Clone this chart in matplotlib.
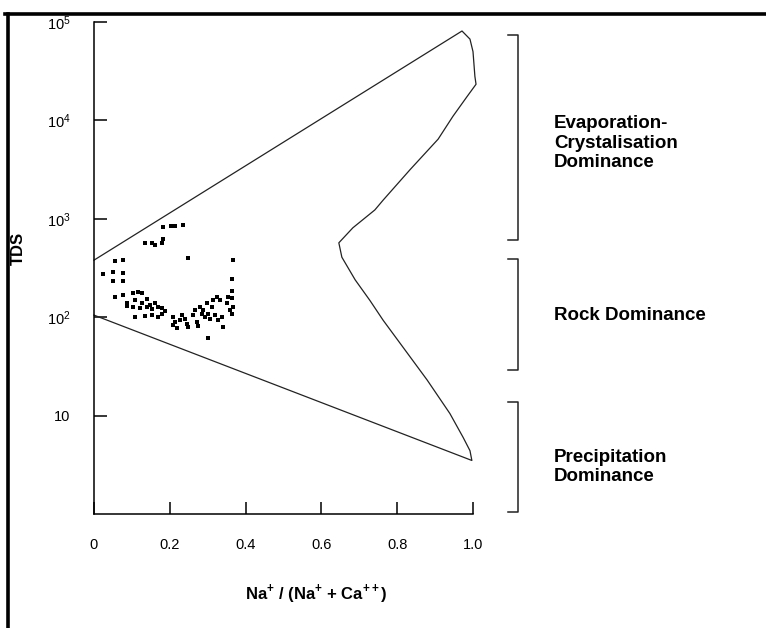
import matplotlib.pyplot as plt
from matplotlib.lines import Line2D

plt.rcParams['font.family'] = ['Liberation Sans', 'DejaVu Sans']
plt.rcParams['mathtext.fontset'] = 'custom'
plt.rcParams['mathtext.rm'] = 'Liberation Sans'
plt.rcParams['mathtext.bf'] = 'Liberation Sans:bold'

# Gibbs envelope, traced round from lower-left to upper-left
env_x = [0.0, 0.997, 0.992, 0.974, 0.939, 0.879, 0.763, 0.728, 0.689, 0.654,
         0.646, 0.683, 0.741, 0.763, 0.834, 0.908, 0.947, 0.984, 1.008, 1.005,
         1.0, 0.992, 0.971, 0.0]
env_tds = [105, 3.5, 4.4, 6.0, 10.5, 23, 93, 148, 240, 407,
           570, 810, 1230, 1550, 3160, 6450, 11000, 17400, 23300, 28000,
           50000, 67000, 81000, 380]

# samples: Na+/(Na+ + Ca++) ratio and TDS (mg/l)
na_ratio = [0.183, 0.202, 0.214, 0.236, 0.135, 0.152, 0.161, 0.183, 0.180, 0.249,
            0.368, 0.055, 0.077, 0.025, 0.051, 0.077, 0.051, 0.077, 0.363, 0.363,
            0.055, 0.077, 0.104, 0.117, 0.126, 0.086, 0.108, 0.126, 0.139, 0.148,
            0.161, 0.170, 0.179, 0.187, 0.086, 0.104, 0.121, 0.139, 0.152, 0.108,
            0.135, 0.152, 0.170, 0.179, 0.209, 0.214, 0.209, 0.218, 0.227, 0.231,
            0.240, 0.245, 0.249, 0.262, 0.266, 0.271, 0.275, 0.280, 0.284, 0.288,
            0.293, 0.297, 0.302, 0.306, 0.311, 0.315, 0.319, 0.324, 0.328, 0.332,
            0.337, 0.341, 0.350, 0.354, 0.359, 0.363, 0.363, 0.368, 0.302]
tds = [822, 849, 850, 868, 573, 565, 543, 621, 565, 397,
       382, 375, 382, 275, 290, 283, 235, 235, 244, 185,
       161, 168, 175, 181, 175, 138, 149, 138, 152, 133,
       140, 127, 123, 116, 130, 126, 123, 127, 120, 101,
       102, 105, 101, 109, 101, 90, 83, 77, 93, 105,
       97, 86, 80, 105, 118, 90, 81, 127, 109, 118,
       101, 138, 109, 97, 127, 149, 105, 161, 93, 149,
       101, 80, 138, 161, 118, 155, 109, 127, 61]

x_ticks = [0, 0.2, 0.4, 0.6, 0.8, 1.0]
x_ticklabels = ['0', '0.2', '0.4', '0.6', '0.8', '1.0']
y_ticks = [10, 100, 1000, 10000, 100000]
y_ticklabels = ['10', r'$\mathregular{10^2}$', r'$\mathregular{10^3}$',
                r'$\mathregular{10^4}$', r'$\mathregular{10^5}$']

# dominance zones: (top, bottom, label, label height)
zone_top = [74000, 390, 13.6]
zone_bottom = [610, 29, 1.05]
zone_label = ['Evaporation-\nCrystalisation\nDominance', 'Rock Dominance',
              'Precipitation\nDominance']
zone_label_y = [5850, 105, 3.0]

fig = plt.figure(figsize=(7.66, 6.28), dpi=100)
ax = fig.add_axes([94 / 766, 1 - 514 / 628, 379 / 766, 492 / 628])

ax.plot(env_x, env_tds, color='#222222', lw=0.9, clip_on=False)
ax.scatter(na_ratio, tds, marker='s', s=10, color='black', linewidths=0)

ax.set_yscale('log')
ax.set_xlim(0, 1.0)
ax.set_ylim(1, 100000)
ax.set_xticks(x_ticks)
ax.set_xticklabels(x_ticklabels)
ax.set_yticks(y_ticks)
ax.set_yticklabels(y_ticklabels)
ax.minorticks_off()
ax.tick_params(direction='in', length=9, width=1.1, labelsize=10.5, pad=17)

for side in ['top', 'right']:
    ax.spines[side].set_visible(False)
for side in ['left', 'bottom']:
    ax.spines[side].set_linewidth(1.1)

ax.set_xlabel(r'Na$^\mathbf{+}$ / (Na$^\mathbf{+}$ + Ca$^\mathbf{++}$)',
              fontsize=12, fontweight='bold')
ax.xaxis.set_label_coords(0.586, -0.138)
ax.set_ylabel('TDS', fontsize=12, fontweight='bold')
ax.yaxis.set_label_coords(-0.18, 0.54)

# brackets and labels for each dominance field
for top, bottom, label, ly in zip(zone_top, zone_bottom, zone_label, zone_label_y):
    ax.plot([1.092, 1.119, 1.119, 1.092], [top, top, bottom, bottom],
            color='#222222', lw=1.1, clip_on=False)
    ax.text(1.214, ly, label, fontsize=13.5, fontweight='bold',
            ha='left', va='center', linespacing=1.2)

# heavy frame on the top and left edges
fig.add_artist(Line2D([5 / 766, 1], [1 - 14 / 628] * 2, color='black', lw=2.6))
fig.add_artist(Line2D([7.5 / 766] * 2, [0, 1 - 14 / 628], color='black', lw=2.6))

fig.savefig('out.png', dpi=100)
